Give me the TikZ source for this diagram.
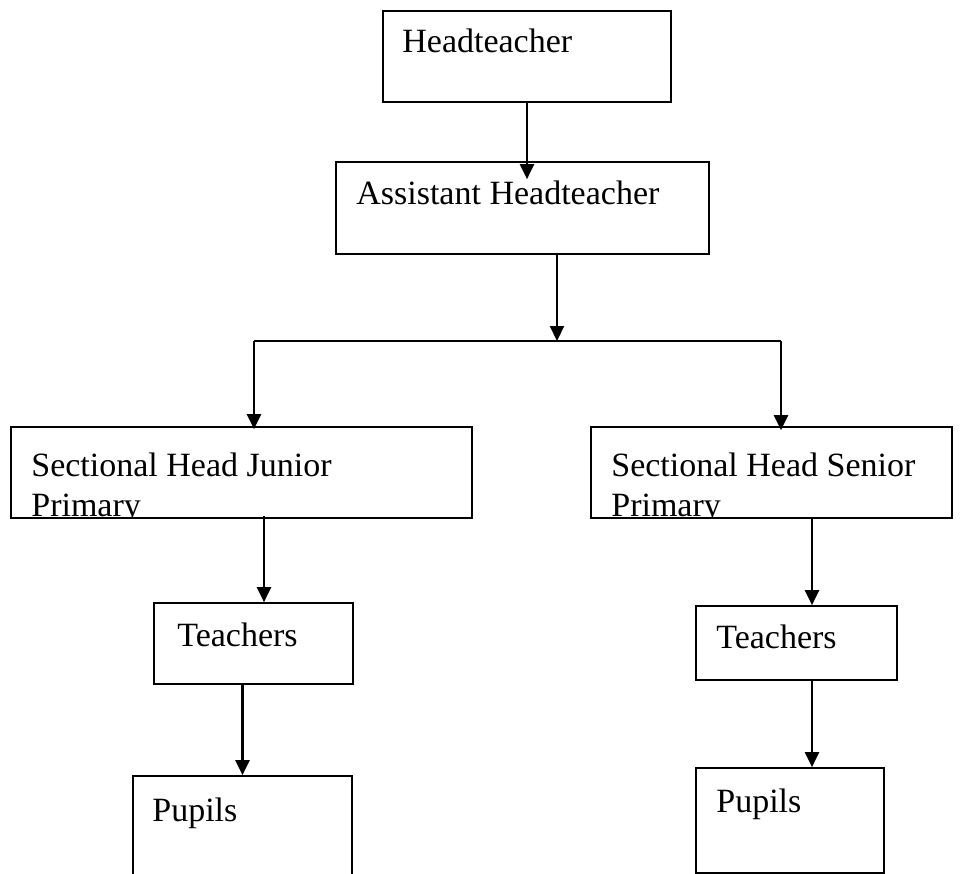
\documentclass[tikz,border=0pt]{standalone}
\usepackage{fontspec}
\setmainfont{Liberation Serif}
\usetikzlibrary{arrows.meta,positioning,calc}

\begin{document}
\begin{tikzpicture}[
  x=1pt, y=-1pt,
  box/.style={rectangle, draw, line width=1.7pt, inner sep=0pt},
  box_text/.style={anchor=base west, inner sep=0pt,
                   font=\fontsize{34}{40}\selectfont, align=left},
  arrow/.style={-{Triangle[length=15pt,width=14pt]}, line width=2.2pt},
  link/.style={line width=2pt}
]

% Page frame (cuts off the lowest box like the scan)
\clip (0,0) rectangle (960,874);

% Boxes
\node[box, minimum width=288, minimum height=91]  (head) at (527,56.5)   {};
\node[box, minimum width=373, minimum height=92]  (asst) at (522.5,208)  {};
\node[box, minimum width=461, minimum height=91]  (secJ) at (241.5,472.5) {};
\node[box, minimum width=361, minimum height=91]  (secS) at (771.5,472.5) {};
\node[box, minimum width=199, minimum height=81]  (tchJ) at (253.5,643.5) {};
\node[box, minimum width=201, minimum height=74]  (tchS) at (796.5,643)   {};
\node[box, minimum width=219, minimum height=124] (pupJ) at (242.5,838)   {};
\node[box, minimum width=188, minimum height=105] (pupS) at (790,820.5)   {};

% Texts
\node[box_text] (headT) at ($(head.north west)+(20,42)$) {Headteacher};
\node[box_text] (asstT) at ($(asst.north west)+(21,43)$) {Assistant Headteacher};
\begin{scope}
  \clip (secJ.north west) rectangle (secJ.south east);
  \node[box_text] (secJT) at ($(secJ.north west)+(21,90)$) {Sectional Head Junior\\Primary};
\end{scope}
\begin{scope}
  \clip (secS.north west) rectangle (secS.south east);
  \node[box_text] (secST) at ($(secS.north west)+(21,90)$) {Sectional Head Senior\\Primary};
\end{scope}
\node[box_text] (tchJT) at ($(tchJ.north west)+(24,44)$) {Teachers};
\node[box_text] (tchST) at ($(tchS.north west)+(21,43)$) {Teachers};
\node[box_text] (pupJT) at ($(pupJ.north west)+(20,46)$) {Pupils};
\node[box_text] (pupST) at ($(pupS.north west)+(21,45)$) {Pupils};

% Branch points
\coordinate (fork)  at (557,341);
\coordinate (forkL) at (254,341);
\coordinate (forkR) at (781,341);

% Connectors
\draw[arrow] (head.south) -- ([yshift=-18pt]head.south |- asst.north);
\draw[arrow] (fork |- asst.south) -- (fork);
\draw[link]  (forkL) -- (forkR);
\draw[arrow] (forkL) -- ([yshift=-3pt]forkL |- secJ.north);
\draw[arrow] (forkR) -- ([yshift=-4pt]forkR |- secS.north);
\draw[arrow] ([xshift=10.5pt,yshift=3pt]tchJ.north |- secJ.south) -- ([xshift=10.5pt]tchJ.north);
\draw[arrow] (pupJ.north |- tchJ.south) -- (pupJ.north);
\draw[arrow] ([xshift=15.5pt]tchS.north |- secS.south) -- ([xshift=15.5pt]tchS.north);
\draw[arrow] ([xshift=22pt]pupS.north |- tchS.south) -- ([xshift=22pt]pupS.north);

\end{tikzpicture}
\end{document}
